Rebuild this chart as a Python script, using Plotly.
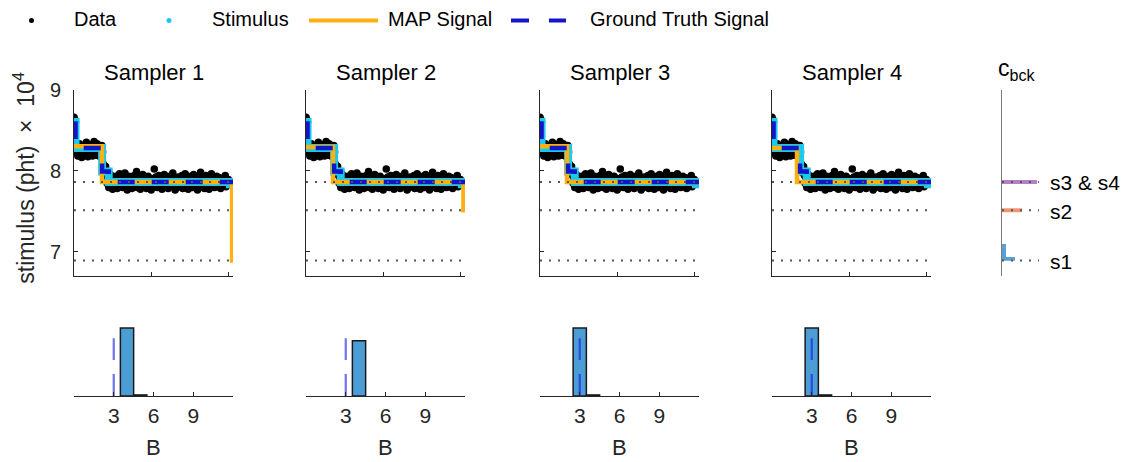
import plotly.graph_objects as go

W, H = 1129, 462
FONT = "Liberation Sans, Arial, Helvetica, sans-serif"

# ---------------- data ----------------
data_t = list(range(0, 1001, 5))
data_v = [
    8.66, 8.63, 8.60,
    8.22, 8.30, 8.18, 8.27, 8.33, 8.20, 8.25, 8.16, 8.29, 8.24,
    8.31, 8.19, 8.26, 8.35, 8.21, 8.17, 8.28, 8.23, 8.32, 8.20,
    8.26, 8.18, 8.30, 8.36, 8.22, 8.27, 8.19, 8.33, 8.24, 8.21,
    8.29, 8.17, 8.25, 8.31, 8.23,
    8.08, 8.03, 7.97, 8.05, 7.94,
    7.84, 7.91, 7.79, 7.88, 7.95, 7.82, 7.86, 7.77, 7.90, 7.85,
    7.80, 7.93, 7.87, 7.78, 7.89, 7.83, 7.96, 7.81, 7.86, 7.92,
    7.79, 7.88, 7.84, 7.97, 7.82, 7.90, 7.76, 7.87, 7.93, 7.80,
    7.85, 7.91, 7.78, 7.89, 7.83, 7.94, 7.81, 7.86, 7.99, 7.79,
    7.88, 7.84, 7.92, 7.77, 7.87, 7.82, 7.95, 7.80, 7.89, 7.85,
    7.91, 7.78, 7.86, 7.93, 7.81, 7.88, 7.84, 7.76, 7.90, 7.83,
    7.87, 8.02, 7.80, 7.92, 7.85, 7.79, 7.89, 7.94, 7.82, 7.86,
    7.90, 7.77, 7.88, 7.83, 7.95, 7.81, 7.87, 7.84, 7.91, 7.78,
    7.86, 7.93, 7.80, 7.89, 7.85, 7.97, 7.82, 7.88, 7.76, 7.91,
    7.84, 7.79, 7.92, 7.87, 7.81, 7.90, 7.85, 7.94, 7.78, 7.88,
    7.83, 7.96, 7.80, 7.86, 7.91, 7.77, 7.89, 7.84, 7.93, 7.82,
    7.87, 7.79, 7.95, 7.85, 7.90, 7.81, 7.88, 7.76, 7.92, 7.84,
    7.86, 7.98, 7.80, 7.89, 7.83, 7.91, 7.78, 7.87, 7.94, 7.82,
    7.85, 7.90, 7.77, 7.88, 7.84, 7.96, 7.81, 7.86, 7.92, 7.79,
    7.89, 7.83, 7.93, 7.80, 7.87, 7.85, 7.91, 7.78, 7.88, 7.84,
    7.82, 7.90, 7.86, 7.94, 7.80, 7.87, 7.83, 7.89,
]

stim_t = [0, 10, 182, 225, 1010, 1030]
stim_v = [8.60, 8.28, 7.99, 7.86, 7.83, 7.83]

gt_t = [0, 10, 182, 225, 1030]
gt_v = [8.58, 8.28, 7.99, 7.86, 7.86]

sampler_names = ["Sampler 1", "Sampler 2", "Sampler 3", "Sampler 4"]
map_t = [[0, 181, 1024, 1030], [0, 175, 1020, 1030], [0, 175, 1030], [0, 162, 1030]]
map_v = [[8.30, 7.86, 6.89, 6.89], [8.29, 7.86, 7.51, 7.51], [8.30, 7.86, 7.86], [8.28, 7.86, 7.86]]

cbck_lines = [7.86, 7.51, 6.89]
cbck_line_t = [0, 1010]

b_vals = [[4, 5], [4], [3, 4], [3, 4]]
b_heights = [[1.0, 0.015], [0.81], [1.0, 0.015], [1.0, 0.015]]
b_true = 3
b_true_top = 0.85

# c_bck posterior histograms (right panel)
cb_s1_y = [6.91, 6.95, 6.99, 7.03, 7.07]
cb_s1_n = [13, 4, 4, 4, 4]
cb_s2_y = [7.51]
cb_s2_n = [20]
cb_s34_y = [7.86]
cb_s34_n = [35]
cb_labels = ["s3 &amp; s4", "s2", "s1"]
cb_label_y = [7.86, 7.51, 6.89]

# ---------------- styling ----------------
C_MAP = "#FDB00F"
C_GT = "#1216C8"
C_STIM = "#19C9EE"
C_AX = "#262626"
C_HIST = "#4C9DD6"

main_left = [74, 306, 540, 772]
panel_w = 159
Y_BOT, Y_TOP = 6.7, 9.0
MAIN_TOP_PX, MAIN_BOT_PX = 90, 276


def fx(p):
    return p / W


def fy(p):
    # vertical placement (empirically calibrated to the rendered page)
    q = (p - 11.5) / 0.975
    return 1 - q / H


def y_to_px(v):
    return MAIN_BOT_PX - (v - Y_BOT) / (Y_TOP - Y_BOT) * (MAIN_BOT_PX - MAIN_TOP_PX)


main_ydom = [fy(MAIN_BOT_PX), fy(MAIN_TOP_PX)]
hist_ydom = [fy(396), fy(326)]

fig = go.Figure()

for i in range(4):
    n = i + 1
    xa, ya = f"x{n}", f"y{n}"
    fig.add_trace(go.Scatter(x=data_t, y=data_v, mode="markers", xaxis=xa, yaxis=ya,
                             marker=dict(color="black", size=7.5), showlegend=False,
                             hoverinfo="skip"))
    fig.add_trace(go.Scatter(x=stim_t, y=stim_v, mode="lines", line_shape="hv",
                             xaxis=xa, yaxis=ya, line=dict(color=C_STIM, width=8),
                             showlegend=False))
    fig.add_trace(go.Scatter(x=map_t[i], y=map_v[i], mode="lines", line_shape="hv",
                             xaxis=xa, yaxis=ya, line=dict(color=C_MAP, width=4.5),
                             showlegend=False))
    fig.add_trace(go.Scatter(x=gt_t, y=gt_v, mode="lines", line_shape="hv",
                             xaxis=xa, yaxis=ya,
                             line=dict(color=C_GT, width=4.5, dash="17px,17px"),
                             showlegend=False))
    for lv in cbck_lines:
        fig.add_trace(go.Scatter(x=cbck_line_t, y=[lv, lv], mode="lines",
                                 xaxis=xa, yaxis=ya,
                                 line=dict(color="#555555", width=2, dash="2px,7px"),
                                 showlegend=False))
    # histogram of B
    hn = i + 5
    hxa, hya = f"x{hn}", f"y{hn}"
    fig.add_trace(go.Bar(x=b_vals[i], y=b_heights[i], width=1, xaxis=hxa, yaxis=hya,
                         marker=dict(color=C_HIST, line=dict(color="#1a1a1a", width=1.5)),
                         showlegend=False))
    fig.add_trace(go.Scatter(x=[b_true, b_true], y=[0, b_true_top], mode="lines",
                             xaxis=hxa, yaxis=hya,
                             line=dict(color="rgba(20,20,230,0.6)", width=2.2,
                                       dash="22px,14px"),
                             showlegend=False))

# right panel: c_bck histograms
fig.add_trace(go.Bar(y=cb_s1_y, x=cb_s1_n, orientation="h", width=0.045,
                     xaxis="x9", yaxis="y9", marker=dict(color="rgb(90,160,215)", line_width=0),
                     showlegend=False))
fig.add_trace(go.Bar(y=cb_s2_y, x=cb_s2_n, orientation="h", width=0.05,
                     xaxis="x9", yaxis="y9", marker=dict(color="rgb(238,150,112)", line_width=0),
                     showlegend=False))
fig.add_trace(go.Bar(y=cb_s34_y, x=cb_s34_n, orientation="h", width=0.05,
                     xaxis="x9", yaxis="y9", marker=dict(color="rgb(180,128,196)", line_width=0),
                     showlegend=False))
for lv in cbck_lines:
    fig.add_trace(go.Scatter(x=[0, 37], y=[lv, lv], mode="lines", xaxis="x9", yaxis="y9",
                             line=dict(color="#555555", width=2, dash="2px,7px"),
                             showlegend=False))

layout = dict(
    width=W, height=H,
    margin=dict(l=0, r=0, t=0, b=0),
    paper_bgcolor="white", plot_bgcolor="white",
    font=dict(family=FONT, color=C_AX),
    barmode="overlay",
    showlegend=False,
)

for i in range(4):
    n = i + 1
    xd = [fx(main_left[i]), fx(main_left[i] + panel_w)]
    layout[f"xaxis{n}"] = dict(domain=xd, range=[0, 1030], anchor=f"y{n}",
                               showline=True, linecolor=C_AX, linewidth=1,
                               ticks="inside", ticklen=4, tickcolor=C_AX,
                               tickvals=[500, 1000], showticklabels=False,
                               showgrid=False, zeroline=False)
    layout[f"yaxis{n}"] = dict(domain=main_ydom, range=[Y_BOT, Y_TOP], anchor=f"x{n}",
                               showline=True, linecolor=C_AX, linewidth=1,
                               ticks="inside", ticklen=4, tickcolor=C_AX,
                               tickvals=[7, 8, 9], showticklabels=(i == 0),
                               ticklabelstandoff=8,
                               tickfont=dict(size=20, color=C_AX),
                               showgrid=False, zeroline=False)
    hn = i + 5
    layout[f"xaxis{hn}"] = dict(domain=xd, range=[0, 12], anchor=f"y{hn}",
                                showline=True, linecolor=C_AX, linewidth=1,
                                ticks="inside", ticklen=4, tickcolor=C_AX,
                                tickvals=[3, 6, 9], ticklabelstandoff=1,
                                tickfont=dict(size=21, color=C_AX),
                                showgrid=False, zeroline=False)
    layout[f"yaxis{hn}"] = dict(domain=hist_ydom, range=[0, 1.03], anchor=f"x{hn}",
                                visible=False)

layout["xaxis9"] = dict(domain=[fx(1002), fx(1047)], range=[0, 45], anchor="y9",
                        visible=False)
layout["yaxis9"] = dict(domain=main_ydom, range=[Y_BOT, Y_TOP], anchor="x9",
                        showline=True, linecolor="#7a7a7a", linewidth=1.2,
                        ticks="", showticklabels=False, showgrid=False, zeroline=False)

fig.update_layout(**layout)

ann = []
# subplot titles and B labels
for i in range(4):
    cx = fx(main_left[i] + panel_w / 2)
    ann.append(dict(x=cx, y=fy(73), xref="paper", yref="paper", text=sampler_names[i],
                    showarrow=False, font=dict(size=22, color="black"),
                    xanchor="center", yanchor="middle"))
    ann.append(dict(x=cx, y=fy(447), xref="paper", yref="paper", text="B",
                    showarrow=False, font=dict(size=22, color=C_AX),
                    xanchor="center", yanchor="middle"))
# y label
ann.append(dict(x=fx(24), y=fy(178), xref="paper", yref="paper",
                text="stimulus (pht)&nbsp;&nbsp;×&nbsp;&nbsp;10<sup>4</sup>", textangle=-90,
                showarrow=False,
                font=dict(size=23, color=C_AX), xanchor="center", yanchor="middle"))
# c_bck title
ann.append(dict(x=fx(996), y=fy(70), xref="paper", yref="paper", text="c<sub>bck</sub>",
                showarrow=False, font=dict(size=23, color="black"),
                xanchor="left", yanchor="middle"))
# s labels (placed in paper coordinates at the matching data heights)
for lab, yv in zip(cb_labels, cb_label_y):
    ann.append(dict(x=fx(1048), y=fy(y_to_px(yv) + 1), xref="paper", yref="paper",
                    text=lab, showarrow=False,
                    font=dict(size=21, color="black"), xanchor="left", yanchor="middle"))

# legend (manual)
leg_y = 21
leg_texts = [("Data", 72), ("Stimulus", 210), ("MAP Signal", 386), ("Ground Truth Signal", 588)]
for t, xp in leg_texts:
    ann.append(dict(x=fx(xp), y=fy(leg_y - 2), xref="paper", yref="paper", text=t,
                    showarrow=False, font=dict(size=20, color="black"),
                    xanchor="left", yanchor="middle"))
fig.update_layout(annotations=ann)

shapes = [
    dict(type="circle", xref="paper", yref="paper", x0=fx(29), x1=fx(34),
         y0=fy(leg_y + 2.5), y1=fy(leg_y - 2.5), fillcolor="black", line_width=0),
    dict(type="circle", xref="paper", yref="paper", x0=fx(166.5), x1=fx(171.5),
         y0=fy(leg_y + 2.5), y1=fy(leg_y - 2.5), fillcolor=C_STIM, line_width=0),
    dict(type="line", xref="paper", yref="paper", x0=fx(309), x1=fx(378),
         y0=fy(leg_y), y1=fy(leg_y), line=dict(color=C_MAP, width=4)),
    dict(type="line", xref="paper", yref="paper", x0=fx(511), x1=fx(566),
         y0=fy(leg_y), y1=fy(leg_y), line=dict(color=C_GT, width=4, dash="18px,20px")),
]
fig.update_layout(shapes=shapes)

post = (
    "document.documentElement.style.margin='0';"
    "document.body.style.margin='0';"
    "document.body.style.overflow='hidden';"
    "var gd=document.getElementById('{plot_id}');"
    "gd.style.position='absolute';gd.style.top='0px';gd.style.left='0px';"
)
fig.write_html("out.html", config={"displayModeBar": False}, post_script=post)
